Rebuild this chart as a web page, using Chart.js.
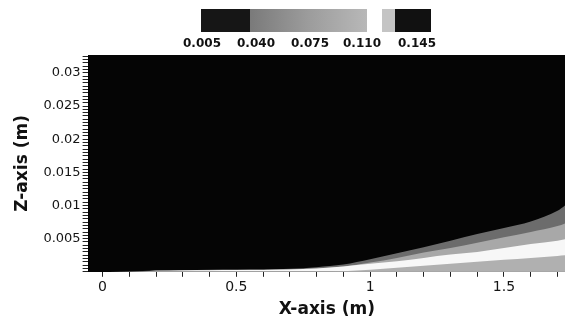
<!DOCTYPE html>
<html><head><meta charset="utf-8">
<script src="https://cdn.jsdelivr.net/npm/chart.js@4/dist/chart.umd.min.js"></script>
<style>html,body{margin:0;padding:0;background:#fff;}#wrap{width:565px;height:322px;position:relative;}</style>
</head><body><div id="wrap"><canvas id="c" width="565" height="322"></canvas></div>
<script>
// X positions along the plate (m)
const xPositions = [-0.052, 0.1, 0.2, 0.3, 0.4, 0.5, 0.6, 0.7, 0.8, 0.9, 1.0, 1.1, 1.2, 1.3, 1.4, 1.5, 1.6, 1.7, 1.728];
// Contour boundaries (Z, m)
const outerEdge  = [0, 0.00005, 0.00018, 0.00025, 0.0003, 0.00033, 0.00036, 0.00045, 0.0007, 0.0011, 0.0019, 0.0028, 0.0037, 0.0047, 0.0057, 0.0066, 0.0076, 0.0092, 0.0100];
const midEdge    = [0, 0.00004, 0.00016, 0.00022, 0.00026, 0.00029, 0.00032, 0.0004, 0.0005, 0.0008, 0.0014, 0.0021, 0.0029, 0.0036, 0.0044, 0.0052, 0.0060, 0.0069, 0.0073];
const coreTop    = [0, 0.00003, 0.00014, 0.0002, 0.00023, 0.00026, 0.00029, 0.00035, 0.0005, 0.0008, 0.0012, 0.0016, 0.0021, 0.0026, 0.0030, 0.0036, 0.0042, 0.0047, 0.0049];
const coreBottom = [0, 0, 0, 0, 0, 0, 0, 0, 0, 0.0001, 0.0003, 0.0006, 0.0009, 0.0012, 0.0015, 0.0018, 0.0021, 0.0024, 0.0025];
// Tick labels
const xTickValues = [0, 0.5, 1, 1.5];
const xTickLabels = ['0', '0.5', '1', '1.5'];
const zTickValues = [0.005, 0.01, 0.015, 0.02, 0.025, 0.03];
const zTickLabels = ['0.005', '0.01', '0.015', '0.02', '0.025', '0.03'];
const colorbarLabels = ['0.005', '0.040', '0.075', '0.110', '0.145'];

function pts(arr){ return xPositions.map((x,i)=>({x:x, y:arr[i]})); }
function findLabel(vals, labels, v){ const i = vals.findIndex(t=>Math.abs(t-v)<1e-9); return i>=0 ? labels[i] : ''; }

const bgPlugin = {
  id:'bg',
  beforeDatasetsDraw(chart){
    const {ctx, chartArea:a} = chart;
    ctx.save(); ctx.fillStyle='#050505'; ctx.fillRect(a.left, a.top, a.right-a.left, a.bottom-a.top); ctx.restore();
  }
};
const colorbarPlugin = {
  id:'colorbar',
  afterDraw(chart){
    const ctx = chart.ctx;
    ctx.save();
    const y0 = 9, h = 23;
    ctx.fillStyle = '#161616'; ctx.fillRect(201, y0, 50, h);
    const g = ctx.createLinearGradient(250,0,367,0);
    g.addColorStop(0,'#7a7a7a'); g.addColorStop(0.5,'#9c9c9c'); g.addColorStop(1,'#b8b8b8');
    ctx.fillStyle = g; ctx.fillRect(250, y0, 117, h);
    ctx.fillStyle = '#c4c4c4'; ctx.fillRect(382, y0, 13, h);
    ctx.fillStyle = '#111'; ctx.fillRect(395, y0, 36, h);
    ctx.fillStyle = '#111';
    ctx.font = 'bold 12px "DejaVu Sans"';
    ctx.textAlign = 'center'; ctx.textBaseline = 'middle';
    const xs = [202, 256, 310, 362, 417];
    colorbarLabels.forEach((t,i)=>ctx.fillText(t, xs[i], 44));
    ctx.restore();
  }
};

new Chart(document.getElementById('c'), {
  type:'line',
  data:{ datasets:[
    {data:pts(coreBottom), backgroundColor:'#b0b0b0', fill:'origin', borderWidth:0, pointRadius:0, cubicInterpolationMode:'monotone'},
    {data:pts(coreTop), backgroundColor:'#f7f7f7', fill:'origin', borderWidth:0, pointRadius:0, cubicInterpolationMode:'monotone'},
    {data:pts(midEdge), backgroundColor:'#a8a8a8', fill:'origin', borderWidth:0, pointRadius:0, cubicInterpolationMode:'monotone'},
    {data:pts(outerEdge), backgroundColor:'#6c6c6c', fill:'origin', borderWidth:0, pointRadius:0, cubicInterpolationMode:'monotone'}
  ]},
  options:{
    responsive:false, animation:false, devicePixelRatio:1,
    layout:{padding:{top:55, right:0, left:12, bottom:2}},
    plugins:{legend:{display:false}, tooltip:{enabled:false}},
    scales:{
      x:{type:'linear', min:-0.052, max:1.728,
        afterBuildTicks(s){ const t=[]; for(let i=0;i<=17;i++) t.push({value:Math.round(i)/10}); s.ticks=t; },
        ticks:{autoSkip:false, maxRotation:0, padding:2, color:'#151515', font:{family:'DejaVu Sans', size:14},
          callback:(v)=>findLabel(xTickValues, xTickLabels, v)},
        grid:{drawOnChartArea:false, drawTicks:true, tickLength:5, tickColor:'#222'},
        border:{color:'#000', width:1},
        title:{display:true, text:'X-axis (m)', color:'#111', font:{family:'DejaVu Sans', size:17, weight:'bold'}, padding:{top:2,bottom:0}}
      },
      y:{type:'linear', min:0, max:0.0327,
        afterBuildTicks(s){ const t=[]; for(let i=0;i<=65;i++) t.push({value:Math.round(i*5)/10000}); s.ticks=t; },
        ticks:{autoSkip:false, padding:2, color:'#151515', font:{family:'DejaVu Sans', size:13},
          callback:(v)=>findLabel(zTickValues, zTickLabels, v)},
        grid:{drawOnChartArea:false, drawTicks:true, tickLength:6, tickColor:'#222'},
        border:{color:'#000', width:1},
        title:{display:true, text:'Z-axis (m)', color:'#111', font:{family:'DejaVu Sans', size:17, weight:'bold'}, padding:{top:0,bottom:9}}
      }
    }
  },
  plugins:[bgPlugin, colorbarPlugin]
});
</script></body></html>
